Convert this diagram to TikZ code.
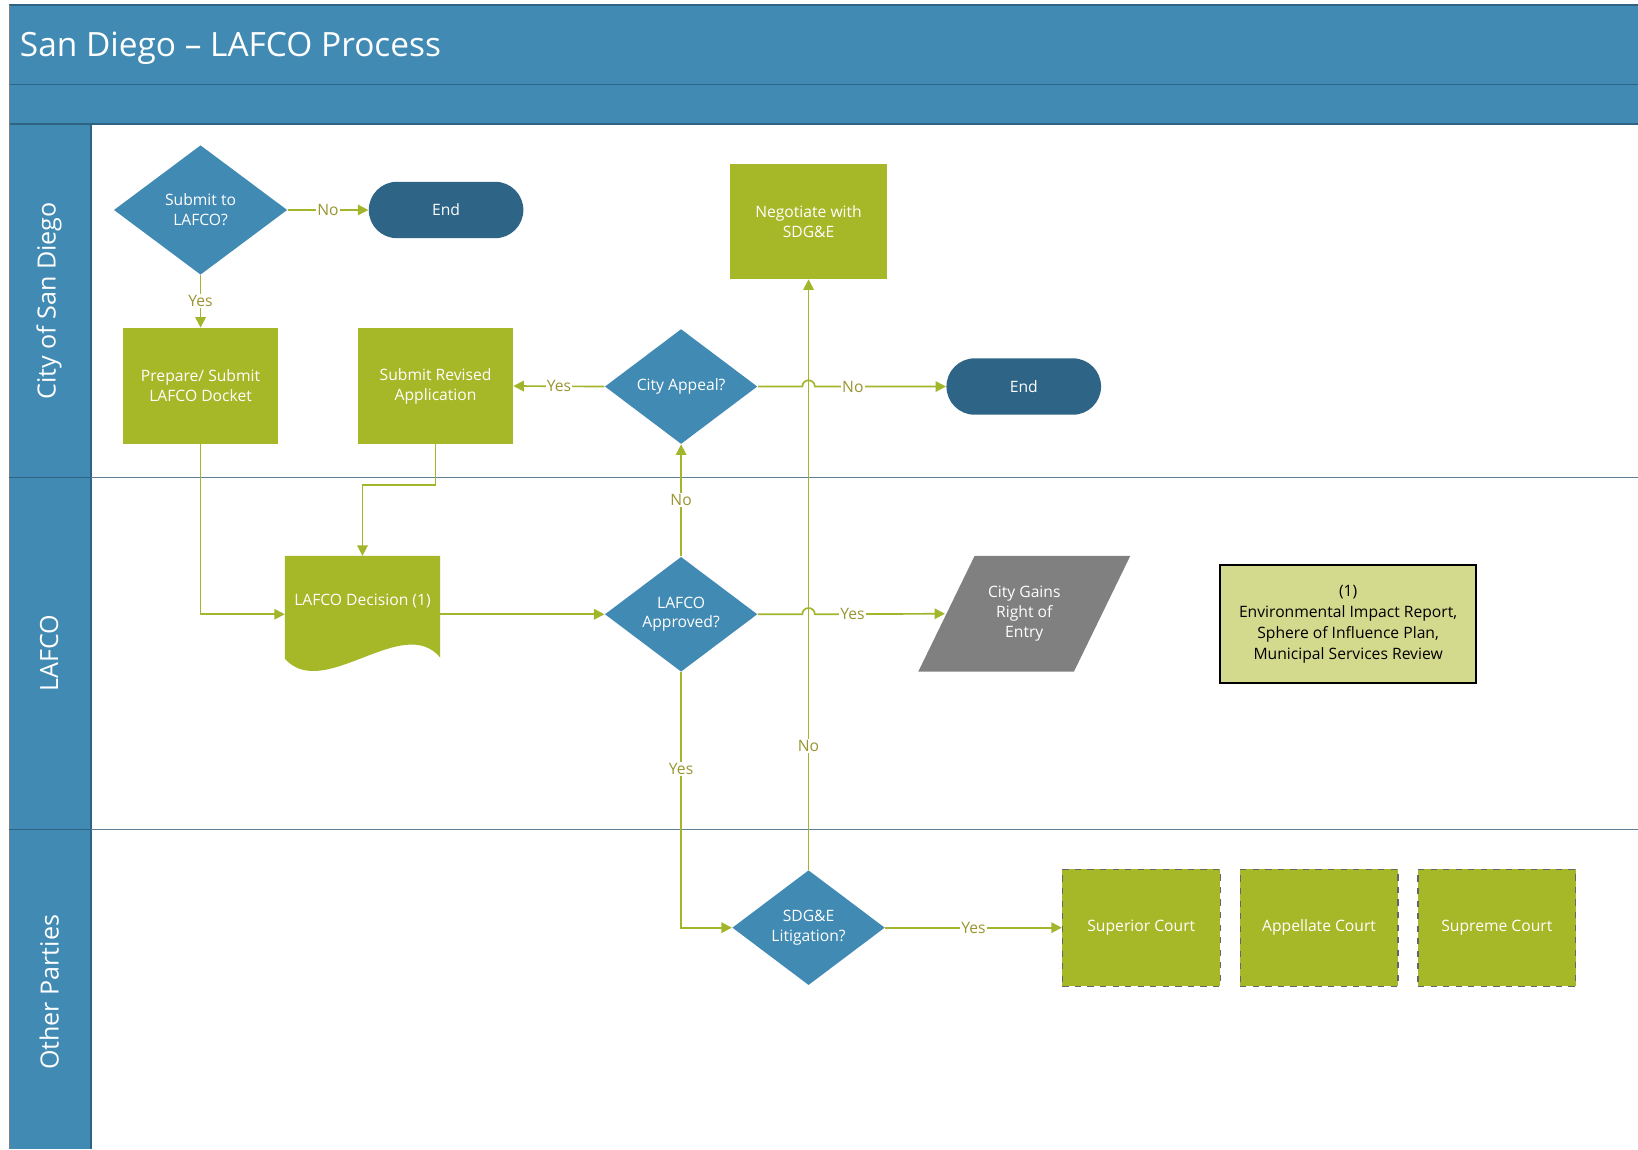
\documentclass[tikz,border=0pt]{standalone}
\usepackage{fontspec}
\setmainfont{Open Sans}
\usetikzlibrary{shapes.geometric, positioning, arrows.meta, calc}

\definecolor{laneblue}{HTML}{418AB3}
\definecolor{laneedge}{HTML}{2F6384}
\definecolor{laneline}{HTML}{5E7F96}
\definecolor{endblue}{HTML}{2E6486}
\definecolor{stepgreen}{HTML}{A6B728}
\definecolor{flowgreen}{HTML}{A2B52B}
\definecolor{lblolive}{HTML}{9A9530}
\definecolor{notefill}{HTML}{D3DA8E}
\definecolor{gaingray}{HTML}{808080}

\tikzset{
  txt/.style={font=\fontsize{7.5}{9.5}\selectfont, text=white, align=center},
  decide/.style={diamond, fill=laneblue, txt, inner sep=0pt, minimum width=73pt, minimum height=55pt},
  task/.style={rectangle, fill=stepgreen, txt, minimum width=74pt, minimum height=55.5pt},
  terminal/.style={rectangle, rounded corners=13.5pt, fill=endblue, txt, minimum width=74pt, minimum height=27pt},
  court/.style={task, draw=black!60, dashed, line width=0.6pt, minimum width=75.5pt, minimum height=56pt},
  flow/.style={draw=flowgreen, line width=0.8pt, -{Triangle[length=5pt,width=5pt]}},
  lbl/.style={font=\fontsize{7.5}{9}\selectfont, text=lblolive, fill=white, inner sep=0.6pt},
  lanetxt/.style={font=\fontsize{12}{14}\selectfont, text=white, rotate=90},
}

\begin{document}
\begin{tikzpicture}[x=0.5pt, y=-0.5pt]
        \useasboundingbox (0,0) rectangle (1568,1100);
        \fill[white] (0,0) rectangle (1568,1100);

        % header and lanes
        \fill[laneblue] (9,5) rectangle (1568,119);
        \fill[laneblue] (9,119) rectangle (87,1100);
        \draw[laneedge, line width=0.8pt] (9,5) -- (1568,5) (9,81) -- (1568,81) (9,119) -- (1568,119);
        \draw[laneedge, line width=0.8pt] (87,119) -- (87,1100);
        \draw[gray, line width=0.8pt] (9,5) -- (9,1100);
        \foreach \y in {457,794} {%
          \draw[laneedge, line width=0.8pt] (9,\y) -- (87,\y);
          \draw[laneline, line width=0.8pt] (87,\y) -- (1568,\y);
        }
        \node[anchor=west, font=\fontsize{16}{19}\selectfont, text=white] (title) at (12,46) {San Diego – LAFCO Process};
        \foreach \y/\t in {288/City of San Diego, 625/LAFCO, 950/Other Parties}
          \node[lanetxt] (lane-\y) at (47,\y) {\t};

        % nodes
        \node[decide, minimum width=83pt, minimum height=62pt] (submit) at (192,201) {Submit to\\LAFCO?};
        \node[terminal] (end1) at (427,201) {End};
        \node[task] (prep) at (192,369.5) {Prepare/ Submit\\LAFCO Docket};
        \node[task] (rev) at (417,369.5) {Submit Revised\\Application};
        \node[decide] (appeal) at (652,370) {City Appeal?};
        \node[terminal] (end2) at (980,370) {End};
        \node[task, minimum width=75pt, minimum height=55pt] (nego) at (774,212) {Negotiate with\\SDG\&E};

        \node[minimum width=74pt, minimum height=55.5pt, inner sep=0pt] (doc) at (347,588) {};
        \fill[stepgreen] (doc.north west) -- (doc.north east) -- ($(doc.south east)+(0,-14.5)$)
          .. controls ($(doc.south east)+(-36,-57.5)$) and ($(doc.south west)+(37,28.5)$) .. ($(doc.south west)+(0,-13.5)$) -- cycle;
        \node[txt] (doctxt) at (347,575) {LAFCO Decision (1)};

        \node[decide] (approved) at (652,588) {LAFCO\\Approved?};
        \node[txt, minimum width=101.5pt, minimum height=55.5pt, inner sep=0pt,
          path picture={\fill[gaingray] (path picture bounding box.south west) -- ++(149,0)
            -- (path picture bounding box.north east) -- ++(-149,0) -- cycle;}] (gains) at (980.5,587.5) {City Gains\\Right of\\Entry};
        \node[draw=black, line width=0.8pt, fill=notefill, minimum width=122.5pt, minimum height=56.5pt,
          font=\fontsize{7.5}{10}\selectfont, align=center] (note) at (1290.5,597.5)
          {(1)\\Environmental Impact Report,\\Sphere of Influence Plan,\\Municipal Services Review};

        \node[decide] (litig) at (774,888) {SDG\&E\\Litigation?};
        \node[court] (superior) at (1092.5,888) {Superior Court};
        \node[court, right=9pt of superior] (appellate) {Appellate Court};
        \node[court, right=9pt of appellate] (supreme) {Supreme Court};

        % connectors
        \draw[flow] (submit.east) -- node[lbl]{No} (end1.west);
        \draw[flow] (submit.south) -- node[lbl]{Yes} (prep.north);
        \draw[flow] (prep.south) |- (doc.west);
        \draw[flow] (rev.south) -- ++(0,39) -| (doc.north);
        \draw[flow] (appeal.west) -- node[lbl]{Yes} (rev.east);
        \draw[flow] (appeal.east) -- ($(appeal.east -| nego.south)+(-6,0)$) arc[start angle=180, end angle=0, radius=3pt]
          -- node[lbl, pos=0.29]{No} (end2.west);
        \draw[flow] (approved.north) -- node[lbl]{No} (appeal.south);
        \draw[flow] (doc.east) -- (approved.west);
        \draw[flow] (approved.east) -- ($(approved.east -| nego.south)+(-6,0)$) arc[start angle=180, end angle=0, radius=3pt]
          -- node[lbl, pos=0.29]{Yes} ([xshift=13pt]gains.west);
        \draw[flow] (approved.south) |- node[lbl, pos=0.19]{Yes} (litig.west);
        \draw[flow] (litig.north) -- node[lbl, pos=0.21]{No} (nego.south);
        \draw[flow] (litig.east) -- node[lbl]{Yes} (superior.west);
      \end{tikzpicture}
\end{document}
